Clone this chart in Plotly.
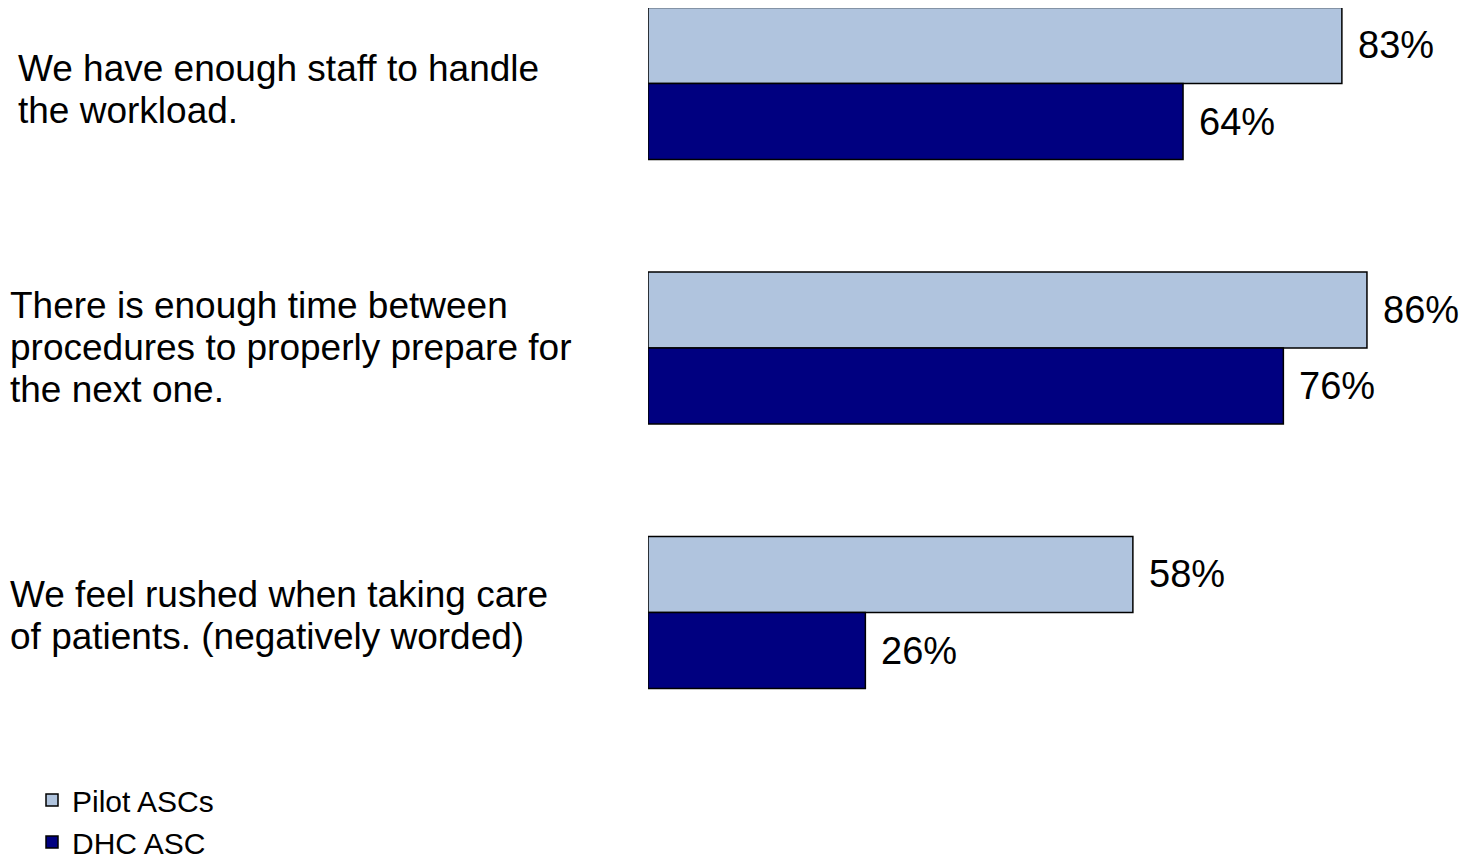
import plotly.graph_objects as go

categories = [
    "We have enough staff to handle<br>the workload.",
    "There is enough time between<br>procedures to properly prepare for<br>the next one.",
    "We feel rushed when taking care<br>of patients. (negatively worded)",
]
pilot = [83, 86, 58]
dhc = [64, 76, 26]
series_names = ["Pilot ASCs", "DHC ASC"]
colors = ["#B0C4DE", "#000080"]

# layout (pixel) helpers
label_x = [16, 8, 8]          # left pixel of each category label (page coords)
label_dy = [6, -1, 3]         # vertical nudge of label block (px, positive = down)
OFF = 8                       # page body margin
W, H = 1472, 864
L = 648 - OFF
plot_w = W - L
px_per_pct = 8.36
group_px = 264.5
first_center = 83.5 - OFF
line_h = 42

y_idx = list(range(len(categories)))

fig = go.Figure()
for name, vals, col in zip(series_names, [pilot, dhc], colors):
    fig.add_trace(go.Bar(
        x=vals, y=y_idx, orientation="h", name=name,
        marker=dict(color=col, line=dict(color="#000000", width=1.5)),
        hoverinfo="x+name",
    ))

bar_w = (1 - 0.425) / 2
for vals, off in [(pilot, -bar_w / 2), (dhc, bar_w / 2)]:
    for i, v in enumerate(vals):
        fig.add_annotation(
            x=v, y=i + off, xref="x", yref="y", text=f"{v}%",
            showarrow=False, xanchor="left", yanchor="middle", xshift=14,
            font=dict(family="Liberation Sans, Arial", size=38, color="#000000"),
        )

for i, (c, lx, dy) in enumerate(zip(categories, label_x, label_dy)):
    lines = c.split("<br>")
    n = len(lines)
    for k, ln in enumerate(lines):
        fig.add_annotation(
            x=(lx - OFF - L) / plot_w, y=i, xref="paper", yref="y", text=ln,
            showarrow=False, xanchor="left", yanchor="middle", align="left",
            yshift=-((k - (n - 1) / 2) * line_h + dy),
            font=dict(family="Liberation Sans, Arial", size=37, color="#000000"),
        )

y_top = -first_center / group_px
y_bot = (H - first_center) / group_px

fig.update_layout(
    width=W, height=H,
    margin=dict(l=L, r=0, t=0, b=0, autoexpand=False),
    paper_bgcolor="white", plot_bgcolor="white",
    barmode="group", bargap=0.425, bargroupgap=0,
    xaxis=dict(range=[0, plot_w / px_per_pct], visible=False, fixedrange=True),
    yaxis=dict(range=[y_bot, y_top], visible=False, fixedrange=True),
    showlegend=True,
    legend=dict(
        x=(32 - OFF - L) / plot_w, y=1 - (774 - OFF) / H, xanchor="left", yanchor="top",
        font=dict(family="Liberation Sans, Arial", size=30, color="#000000"),
        tracegroupgap=0, itemwidth=30, bgcolor="rgba(0,0,0,0)",
    ),
    font=dict(family="Liberation Sans, Arial"),
)

fig.write_html("out.html")
